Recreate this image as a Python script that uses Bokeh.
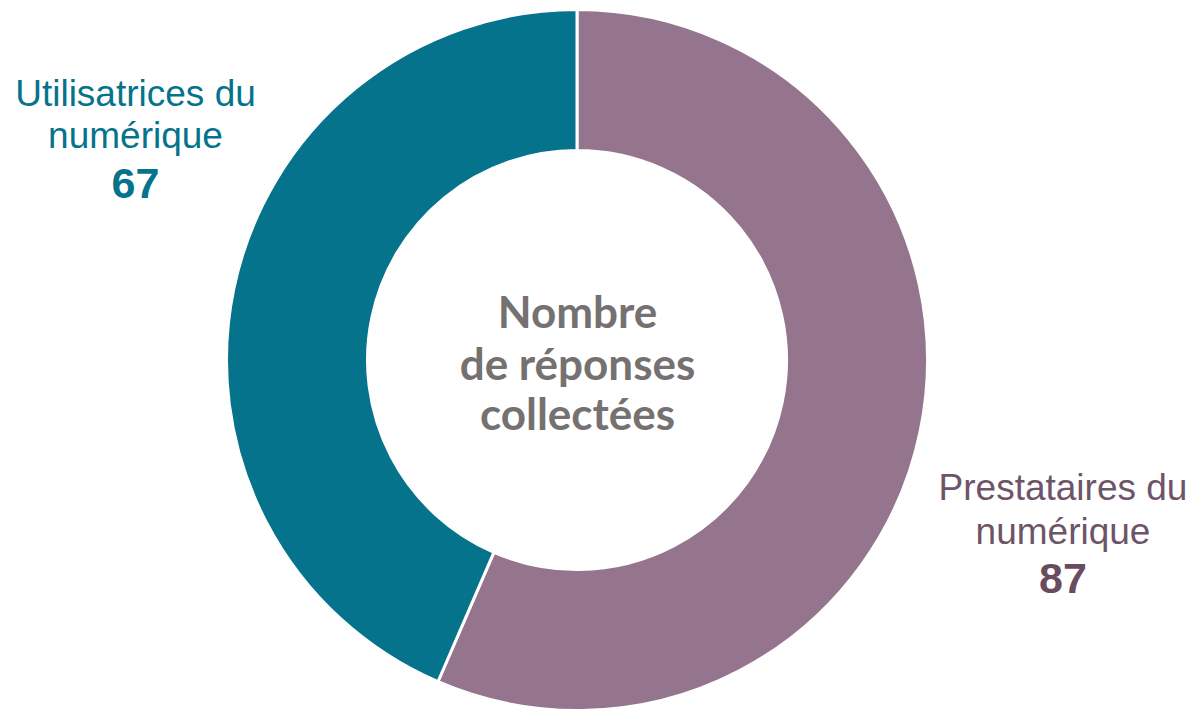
import math
from bokeh.plotting import figure
from bokeh.models import Range1d, ColumnDataSource
from bokeh.core.properties import value
from bokeh.embed import file_html
from bokeh.resources import INLINE

# ---- data ----
categories = ["Prestataires du numérique", "Utilisatrices du numérique"]
counts = [87, 67]
wedge_colors = ["#95758D", "#06738C"]
label_colors = ["#6E5468", "#06738C"]
number_colors = ["#6A4C61", "#06738C"]
center_lines = ["Nombre", "de réponses", "collectées"]

W, H = 1193, 711
OFF = 0
p = figure(width=W, height=H, output_backend="svg", toolbar_location=None,
           x_range=Range1d(0, W), y_range=Range1d(0, H), min_border=0)
p.axis.visible = False
p.grid.visible = False
p.outline_line_color = None
p.background_fill_color = "white"

def sy(screen_y):
    return H - (screen_y - OFF)

def sx(screen_x):
    return screen_x - OFF

cx, cy = sx(576.5), sy(359.5)
outer_r, inner_r = 350.5, 209.5

total = sum(counts)
starts, ends = [], []
cum = 0.0
for c in counts:
    # clockwise from top
    a0 = math.pi / 2 - 2 * math.pi * (cum + c) / total
    a1 = math.pi / 2 - 2 * math.pi * cum / total
    starts.append(a0)
    ends.append(a1)
    cum += c

src = ColumnDataSource(dict(x=[cx] * len(counts), y=[cy] * len(counts),
                            start=starts, end=ends, color=wedge_colors))
p.annular_wedge(x="x", y="y", inner_radius=inner_r, outer_radius=outer_r,
                inner_radius_units="screen", outer_radius_units="screen",
                start_angle="start", end_angle="end", fill_color="color",
                line_color="white", line_width=3, source=src)

# category labels: (center x screen, baselines screen)
label_pos = [(1062.5, [487, 531, 578]), (135, [93, 135, 183])]
for i, cat in enumerate(categories):
    lx, bl = label_pos[i]
    words = cat.split(" ")
    line1 = " ".join(words[:2])
    line2 = " ".join(words[2:])
    p.text(x=[sx(lx)] * 2, y=[sy(bl[0]), sy(bl[1])], text=[line1, line2],
           text_font=value("Liberation Sans"), text_font_size="37px",
           text_align="center", text_baseline="alphabetic",
           text_color=label_colors[i])
    p.text(x=[sx(lx)], y=[sy(bl[2])], text=[str(counts[i])],
           text_font=value("Liberation Sans"), text_font_size="43px",
           text_font_style="bold", text_align="center",
           text_baseline="alphabetic", text_color=number_colors[i])

p.text(x=[sx(577)] * 3, y=[sy(310), sy(362), sy(412)], text=center_lines,
       text_font=value("Lato"), text_font_size="44px", text_font_style="bold",
       text_align="center", text_baseline="alphabetic", text_color="#767171")

open("out.html", "w").write(file_html(p, INLINE))
